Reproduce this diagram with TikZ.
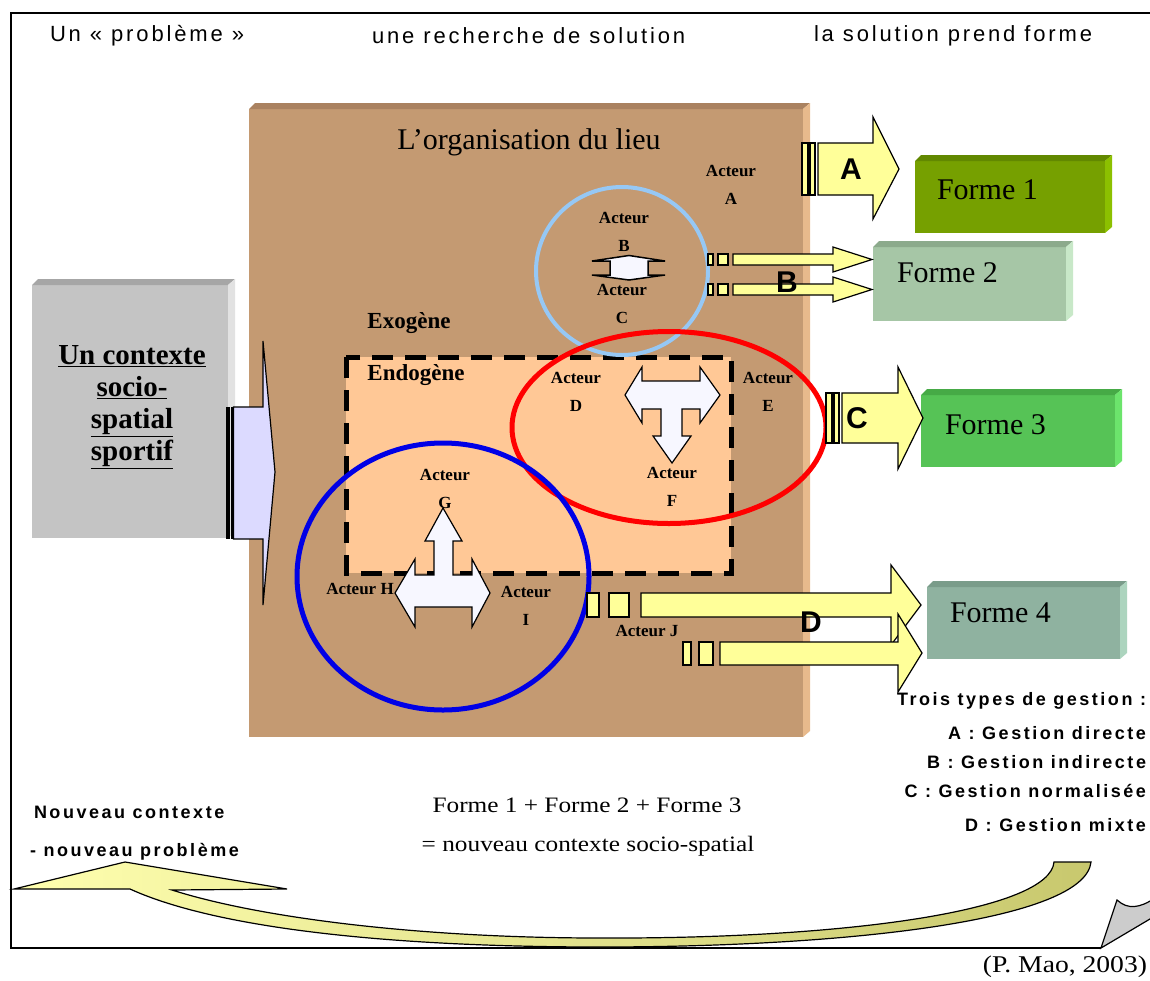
\documentclass[tikz,border=0pt]{standalone}
\usepackage{fontspec}
\setmainfont{Liberation Serif}
\newfontfamily\lsans[LetterSpace=13]{Liberation Sans}
\newfontfamily\lsansb[LetterSpace=14]{Liberation Sans}
\newfontfamily\asans{Liberation Sans}
\newfontfamily\serifw[FakeStretch=1.15]{Liberation Serif}
\definecolor{brmain}{RGB}{196,154,114}
\definecolor{brtop}{RGB}{170,130,96}
\definecolor{brright}{RGB}{232,186,140}
\definecolor{peach}{RGB}{255,200,150}
\definecolor{grmain}{RGB}{196,196,196}
\definecolor{grtop}{RGB}{166,166,166}
\definecolor{grright}{RGB}{226,226,226}
\definecolor{fAmain}{RGB}{118,160,0}
\definecolor{fAtop}{RGB}{98,136,0}
\definecolor{fAright}{RGB}{140,192,0}
\definecolor{fBmain}{RGB}{166,198,166}
\definecolor{fBtop}{RGB}{140,170,140}
\definecolor{fBright}{RGB}{200,232,200}
\definecolor{fCmain}{RGB}{86,195,86}
\definecolor{fCtop}{RGB}{70,170,70}
\definecolor{fCright}{RGB}{108,228,108}
\definecolor{fDmain}{RGB}{143,178,160}
\definecolor{fDtop}{RGB}{122,156,138}
\definecolor{fDright}{RGB}{172,212,190}
\definecolor{ayellow}{RGB}{255,255,153}
\definecolor{lavender}{RGB}{220,218,255}
\definecolor{lightblue}{RGB}{150,200,245}
\definecolor{circblue}{RGB}{0,0,230}
\definecolor{curlA}{RGB}{255,255,175}
\definecolor{curlB}{RGB}{200,200,110}
\newcommand\bevbox[7]{%
  \fill[#5] (#1,{#2+6}) rectangle ({#3-7},#4);
  \fill[#6] (#1,{#2+6}) -- ({#1+6},#2) -- (#3,#2) -- ({#3-7},{#2+6}) -- cycle;
  \fill[#7] ({#3-7},{#2+6}) -- (#3,#2) -- (#3,{#4-6}) -- ({#3-7},#4) -- cycle;
}
\tikzset{
  yarrow/.style={fill=ayellow, draw=black, line width=1.2pt, line join=miter},
  warrow/.style={fill=white!97!blue, draw=black, line width=1.2pt, line join=miter},
  actor/.style={font=\fontsize{17}{28}\selectfont\bfseries, align=center},
  forme/.style={font=\fontsize{30}{36}\selectfont, anchor=west},
  letterlab/.style={font=\asans\bfseries\fontsize{30}{36}\selectfont},
  legend/.style={font=\lsansb\bfseries\fontsize{18}{20}\selectfont, anchor=east},
  toptext/.style={font=\lsans\fontsize{22}{24}\selectfont, anchor=west},
  exo/.style={font=\bfseries\fontsize{23}{26}\selectfont},
}
\begin{document}
\begin{tikzpicture}[x=1pt,y=-1pt, every node/.style={inner sep=0pt, outer sep=0pt}]
\useasboundingbox (0,0) rectangle (1150,980);
\fill[white] (0,0) rectangle (1150,980);
% frame
\draw[line width=1.5pt] (1160,13) -- (11,13) -- (11,948) -- (1101,948);
\coordinate (curlbase) at (1101,948);
\filldraw[fill=gray!40, draw=black, line width=1.2pt] (curlbase) -- (1117,900) .. controls (1128,910) and (1140,908) .. (1155,898) -- (1155,916) -- cycle;

% top texts
\node[toptext] (t1) at (50,36) {Un « problème »};
\node[toptext] (t2) at (372,36) {une recherche de solution};
\node[toptext] (t3) at (814,36) {la solution prend forme};

% brown box
\bevbox{249}{103}{810}{737}{brmain}{brtop}{brright}
\node[font=\fontsize{30}{36}\selectfont] (org) at (529,142) {L’organisation du lieu};

% endogene dashed box
\fill[peach] (346,357) rectangle (731,573);
\draw[line width=5pt, dash pattern=on 21pt off 12pt] (346,357) rectangle (731,573);

\node[exo] (exo) at (409,323) {Exogène};
\node[exo] (endo) at (416,375) {Endogène};

% circles
\draw[lightblue, line width=4pt] (622,271) ellipse [x radius=86, y radius=84];
\draw[red, line width=5pt] (669,427.5) ellipse [x radius=157, y radius=96];
\draw[circblue, line width=5pt] (443,576.5) ellipse [x radius=146, y radius=133.5];

% actor labels
\node[actor] (aA) at (731,184.5) {Acteur\\A};
\node[actor] (aB) at (624,232) {Acteur\\B};
\node[actor] (aC) at (622,303.5) {Acteur\\C};
\node[actor] (aD) at (576,391.5) {Acteur\\D};
\node[actor] (aE) at (768,391.5) {Acteur\\E};
\node[actor] (aF) at (672,487) {Acteur\\F};
\node[actor] (aG) at (445,488.5) {Acteur\\G};
\node[actor] (aH) at (360,589) {Acteur H};
\node[actor] (aI) at (526,605.5) {Acteur\\I};
\node[actor] (aJ) at (647,631) {Acteur J};

% B-C small double arrow
\draw[warrow, line width=1.5pt] (629,255.5) -- (665,261) -- (648,261) -- (648,275) -- (665,275) -- (629,280) -- (592,275) -- (610,275) -- (610,261) -- (592,261) -- cycle;

% D-E-F T arrow
\draw[warrow] (625,395) -- (642,367) -- (642,381) -- (700,381) -- (700,367) -- (720,395) -- (700,423) -- (700,409) -- (682,409) -- (682,436) -- (691,436) -- (672,463) -- (653,436) -- (661,436) -- (661,409) -- (642,409) -- (642,423) -- cycle;

% G-H-I inverted T arrow
\draw[warrow] (443,508) -- (462,541) -- (453,541) -- (453,575) -- (472,575) -- (472,559) -- (490,593) -- (472,627) -- (472,607) -- (415,607) -- (415,627) -- (395,593) -- (415,559) -- (415,575) -- (434,575) -- (434,541) -- (425,541) -- cycle;

% gray context box
\bevbox{32}{279}{235}{538}{grmain}{grtop}{grright}
\node[font=\bfseries\fontsize{29}{32}\selectfont, align=center] (ctx) at (132,407)
  {\underline{Un contexte}\\\underline{socio-}\\\underline{spatial}\\\underline{sportif}};

% lavender arrow into the organisation
\fill[black] (226,407) rectangle (230,539);
\fill[black] (231,407) rectangle (233.5,539);
\draw[fill=lavender, draw=black, line width=1.2pt, line join=miter] (233.5,407) -- (263,407) -- (263,341) -- (275,472) -- (263,605) -- (263,539) -- (233.5,539) -- cycle;

% forms
\bevbox{915}{155}{1112}{233}{fAmain}{fAtop}{fAright}
\bevbox{873}{241}{1073}{321}{fBmain}{fBtop}{fBright}
\bevbox{921}{389}{1122}{467}{fCmain}{fCtop}{fCright}
\bevbox{927}{581}{1127}{659}{fDmain}{fDtop}{fDright}
\node[forme] (f1) at (937,190) {Forme 1};
\node[forme] (f2) at (897,273) {Forme 2};
\node[forme] (f3) at (945,425) {Forme 3};
\node[forme] (f4) at (950,613) {Forme 4};

% arrow A
\draw[yarrow] (802,143) rectangle (808,195);
\draw[yarrow] (810,143) rectangle (815,195);
\draw[yarrow] (818,143) -- (873,143) -- (873,117) -- (899,169) -- (873,219) -- (873,195) -- (818,195) -- cycle;
\node[letterlab] (lA) at (851,169) {A};

% arrows B
\foreach \dy in {0,30}{
  \draw[yarrow] (708,254+\dy) rectangle (713,265+\dy);
  \draw[yarrow] (718,254+\dy) rectangle (728,265+\dy);
  \draw[yarrow] (733,254+\dy) -- (833,254+\dy) -- (833,247+\dy) -- (872,259.5+\dy) -- (833,272+\dy) -- (833,265+\dy) -- (733,265+\dy) -- cycle;
}
\node[letterlab] (lB) at (787,282) {B};

% arrow C
\draw[yarrow] (826,393) rectangle (832,443);
\draw[yarrow] (834,393) rectangle (839,443);
\draw[yarrow] (842,393) -- (898,393) -- (898,367) -- (923,418) -- (898,469) -- (898,443) -- (842,443) -- cycle;
\node[letterlab] (lC) at (857,418) {C};

% arrows D
\draw[yarrow] (587,593) rectangle (599,617);
\draw[yarrow] (609,593) rectangle (629,617);
\draw[yarrow] (641,593) -- (891,593) -- (891,565) -- (921,605) -- (891,645) -- (891,617) -- (641,617) -- cycle;
\draw[yarrow] (683,642) rectangle (691,665);
\draw[yarrow] (699,642) rectangle (713,665);
\draw[yarrow] (720,642) -- (898,642) -- (898,614) -- (922,653) -- (898,692) -- (898,665) -- (720,665) -- cycle;
\node[letterlab] (lD) at (811,622) {D};

% legend
\node[legend] (g0) at (1146,701) {Trois types de gestion :};
\node[legend] (g1) at (1146,733) {A : Gestion directe};
\node[legend] (g2) at (1146,762) {B : Gestion indirecte};
\node[legend] (g3) at (1146,791) {C : Gestion normalisée};
\node[legend] (g4) at (1146,825) {D : Gestion mixte};

% bottom texts
\node[font=\lsansb\bfseries\fontsize{18}{20}\selectfont, anchor=west] (n1) at (34,812) {Nouveau contexte};
\node[font=\lsansb\bfseries\fontsize{18}{20}\selectfont, anchor=west] (n2) at (30,852) {- nouveau problème};
\node[font=\serifw\fontsize{22}{26}\selectfont] (s1) at (587,805) {Forme 1 + Forme 2 + Forme 3};
\node[font=\serifw\fontsize{22}{26}\selectfont] (s2) at (588,846) {= nouveau contexte socio-spatial};
\node[font=\serifw\fontsize{24}{28}\selectfont, anchor=east] (cite) at (1147,967) {(P. Mao, 2003)};

% curved return arrow
\draw[line width=1.2pt, line join=miter, left color=curlA, right color=curlB]
  (130,889) -- (14,889) -- (125,862) -- (287,889) -- (172,890)
  .. controls (260,918) and (420,938) .. (600,938)
  .. controls (850,939) and (1050,910) .. (1054,862)
  -- (1091,862)
  .. controls (1085,920) and (850,947) .. (600,947)
  .. controls (400,947) and (220,930) .. (130,889) -- cycle;
\end{tikzpicture}
\end{document}
